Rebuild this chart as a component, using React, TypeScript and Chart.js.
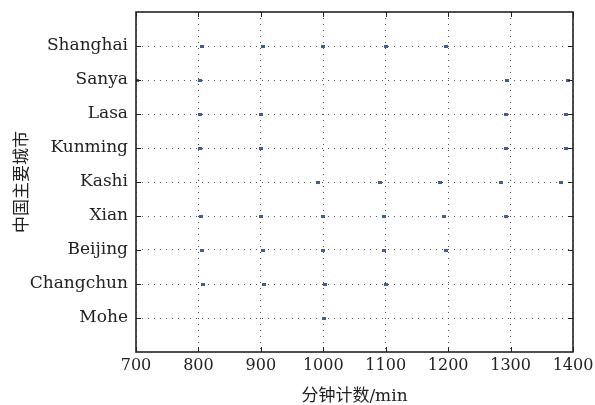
import React, { useEffect, useRef } from "react";
import { Chart, registerables } from "chart.js";

Chart.register(...registerables);

const cities = ["Shanghai", "Sanya", "Lasa", "Kunming", "Kashi", "Xian", "Beijing", "Changchun", "Mohe"];

const shanghai = [806, 903, 1000, 1100, 1197];
const sanya = [702, 802, 1294, 1392];
const lasa = [802, 900, 1292, 1389];
const kunming = [802, 900, 1292, 1389];
const kashi = [992, 1091, 1187, 1284, 1381];
const xian = [804, 901, 999, 1097, 1194, 1292];
const beijing = [806, 903, 1000, 1098, 1196];
const changchun = [807, 905, 1002, 1101];
const mohe = [1001];

const cityValues = [shanghai, sanya, lasa, kunming, kashi, xian, beijing, changchun, mohe];

const xTicks = [700, 800, 900, 1000, 1100, 1200, 1300, 1400];
const xTitle = "分钟计数/min";
const yTitle = "中国主要城市";

function zeroPad(s: any) {
  s.paddingLeft = 0;
  s.paddingRight = 0;
  s.paddingTop = 0;
  s.paddingBottom = 0;
}

export default function App() {
  const ref = useRef<HTMLCanvasElement | null>(null);

  useEffect(() => {
    if (!ref.current) return;
    const mark = document.createElement("canvas");
    mark.width = 4;
    mark.height = 3;
    const mctx = mark.getContext("2d")!;
    mctx.fillStyle = "#2f62b6";
    mctx.fillRect(0, 0, 4, 3);

    const data = cities.flatMap((c, i) => cityValues[i].map((v) => ({ x: v, y: i + 1 })));

    const framePlugin = {
      id: "frame",
      afterDraw(chart: any) {
        const { ctx, chartArea: a, scales } = chart;
        ctx.save();
        ctx.strokeStyle = "#222";
        ctx.lineWidth = 1;
        const len = 5;
        ctx.beginPath();
        cities.forEach((_, i) => {
          const y = Math.round(scales.y.getPixelForValue(i + 1)) + 0.5;
          ctx.moveTo(a.left, y);
          ctx.lineTo(a.left + len, y);
          ctx.moveTo(a.right, y);
          ctx.lineTo(a.right - len, y);
        });
        xTicks.forEach((t) => {
          const x = Math.round(scales.x.getPixelForValue(t)) + 0.5;
          ctx.moveTo(x, a.bottom);
          ctx.lineTo(x, a.bottom - len);
          ctx.moveTo(x, a.top);
          ctx.lineTo(x, a.top + len);
        });
        ctx.stroke();
        ctx.lineWidth = 1.6;
        ctx.strokeRect(a.left, a.top, a.right - a.left, a.bottom - a.top);
        ctx.restore();
      },
    };

    const chart = new Chart(ref.current, {
      type: "scatter",
      data: {
        datasets: [
          {
            data,
            pointStyle: mark as any,
            pointRadius: 2,
            pointHoverRadius: 2,
          },
        ],
      },
      options: {
        animation: false,
        responsive: false,
        layout: { padding: { top: 12, right: 22, left: 0, bottom: 0 } },
        plugins: { legend: { display: false }, tooltip: { enabled: false } },
        scales: {
          x: {
            type: "linear",
            min: 700,
            max: 1400,
            afterBuildTicks: (s: any) => {
              s.ticks = xTicks.map((v) => ({ value: v }));
            },
            afterFit: (s: any) => {
              s.height = 53;
              zeroPad(s);
            },
            ticks: {
              padding: 4,
              color: "#222",
              font: { family: "'DejaVu Serif', serif", size: 16 },
              callback: (v: any) => String(v),
            },
            grid: { color: "#555", lineWidth: 1, drawTicks: false },
            border: { display: false, dash: [1, 5] },
            title: {
              display: true,
              text: xTitle,
              color: "#222",
              font: { family: "'DejaVu Serif', 'Noto Sans CJK SC', serif", size: 17 },
              padding: { top: 0, bottom: -2 },
            },
          },
          y: {
            type: "linear",
            reverse: true,
            min: 0,
            max: 10,
            afterBuildTicks: (s: any) => {
              s.ticks = cities.map((_, i) => ({ value: i + 1 }));
            },
            afterFit: (s: any) => {
              s.width = 136;
              zeroPad(s);
            },
            ticks: {
              padding: 8,
              color: "#222",
              font: { family: "'DejaVu Serif', serif", size: 17 },
              callback: (v: any) => cities[Number(v) - 1] ?? "",
            },
            grid: { color: "#555", lineWidth: 1, drawTicks: false },
            border: { display: false, dash: [1, 5] },
            title: {
              display: true,
              text: yTitle,
              color: "#222",
              font: { family: "'Noto Sans CJK SC', serif", size: 17 },
              padding: { top: 10, bottom: 0 },
            },
          },
        },
      },
      plugins: [framePlugin],
    });
    return () => chart.destroy();
  }, []);

  return (
    <div style={{ position: "absolute", left: 0, top: 0, width: 595, height: 405, background: "#fff" }}>
      <canvas ref={ref} width={595} height={405} />
    </div>
  );
}
